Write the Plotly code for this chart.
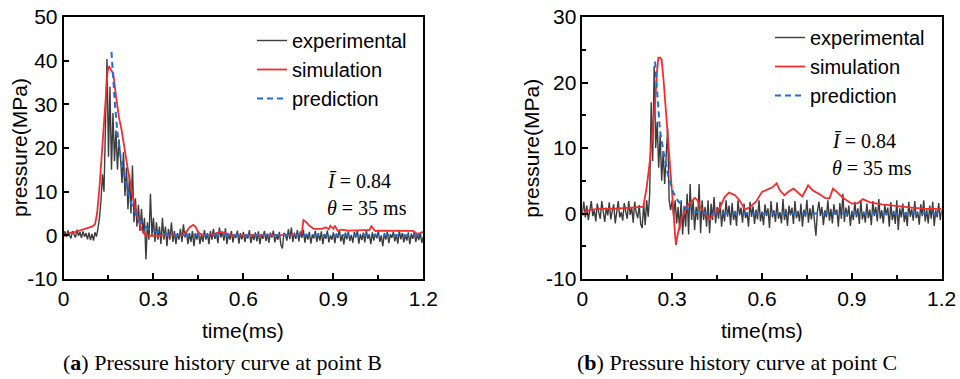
import plotly.graph_objects as go

# ---------------- data ----------------
# Point B experimental (sampled every 0.005 ms from 0 to 1.2 ms)
exp_b = [0.2, 0.9, -0.4, 1.1, 0.0, -0.7, 1.0, 0.3, -0.5, 1.3, -0.1, 0.7, -0.6, 0.9, -0.3, 0.5, -0.9, 0.6, -1.1, 0.3,
         -1.2, 0.7, -0.3, 1.6,
         4.0, 8.0, 14.0, 10.0, 25.0, 40.4, 18.0, 34.0, 15.0, 28.0, 17.0, 24.0, 15.0, 22.0, 18.0, 12.0, 19.0, 9.0, 15.5,
         6.0, 14.0, 5.0, 16.0, 3.0, 8.5, 2.0, 7.0, 1.0, 6.0, 0.5, 4.0, -5.5, 3.0, -1.0, 9.5, 0.0, 4.0,
         -1.5, 3.0, -1.0, 2.0, -2.0, 4.0, -1.0, 2.0, -2.5, 1.5, -1.0, 3.0, -1.5, 1.0, -2.0, 0.5, -1.0, 1.5, -1.5, 2.5,
         -0.5, 1.0, -2.0, 0.5, -1.5, 1.0, -2.5, 0.5, -1.0, 1.0, -2.0, 0.3, -1.5, 1.2, -1.0, 0.5, -2.0, 1.0, -1.0,
         1.5, -0.8, 0.6, -1.8, 1.8, -0.5, 0.9, -1.2, 1.6, -2.0,
         0.4, -1.0, 1.0, -1.6, 0.2, -0.6, 1.1, -1.9, 0.5, -0.9,
         0.8, -1.5, 0.1, -0.7, 1.2, -1.8, 0.3, -1.1, 0.7, -1.4,
         0.9, -2.0, 0.2, -0.8, 1.0, -1.3, 0.4, -1.7, 0.6, -0.5,
         1.1, -1.6, 0.0, -1.0, 0.8, -2.2, -3.0, 0.5, 0.2, -1.2,
         1.4, -0.9, 1.8, -1.5, 0.6, -0.8, 1.2, -1.4, 0.9, -0.6,
         1.3, -1.7, 0.4, -1.0, 0.8, -1.9, 0.2, -0.7, 1.0, -1.5,
         0.5, -1.2, 0.9, -2.0, 0.3, -0.8, 1.1, -1.6, 0.0, -1.0,
         0.7, -1.8, 0.4, -0.6, 1.2, -1.4, 0.2, -2.1, 0.6, -0.9,
         0.9, -1.3, 0.1, -1.7, 0.8, -0.5, 1.0, -1.9, 0.3, -1.1,
         0.6, -1.6, 1.1, -0.8, 0.2, -2.0, 0.7, -1.2, 0.4, -0.7,
         1.0, -1.5, 0.0, -2.5, 0.5, -1.0, 0.9, -1.8, 0.3, -0.6,
         0.8, -1.4, 0.2, -1.9, 1.1, -0.9, 0.5, -1.6, 0.1, -1.2,
         0.7, -2.0, 0.4, -0.8, 0.9, -1.5, 0.2, -1.1, 0.6, -1.7,
         -0.3]

sim_b_t = [0, 0.02, 0.04, 0.06, 0.08, 0.095, 0.105, 0.112, 0.12, 0.127, 0.133, 0.14, 0.147, 0.152, 0.158, 0.166,
           0.175, 0.185, 0.194, 0.205, 0.215, 0.227, 0.24, 0.25, 0.26, 0.27, 0.283, 0.3, 0.35, 0.4, 0.41, 0.42,
           0.433, 0.44, 0.45, 0.47, 0.5, 0.52, 0.54, 0.56, 0.6, 0.7, 0.78, 0.795, 0.8, 0.81, 0.82, 0.835, 0.86,
           0.875, 0.885, 0.89, 0.9, 0.905, 0.915, 0.925, 0.95, 1.0, 1.02, 1.027, 1.04, 1.06, 1.1, 1.166, 1.18,
           1.19, 1.2]
sim_b = [-0.2, 0.5, 0.8, 1.2, 1.6, 2.0, 2.5, 5.0, 11.0, 18.0, 26.0, 33.0, 37.5, 38.7, 38.0, 37.0,
         32.0, 27.0, 24.0, 19.0, 15.0, 10.5, 6.0, 3.5, 1.4, 0.3, -0.1, -0.1, 0.0, 0.1, 0.8, 1.8,
         2.4, 2.0, 0.6, 0.0, 0.2, 0.8, 0.5, 0.0, 0.0, 0.0, 0.1, 0.5, 3.5, 3.0, 2.2, 1.5, 1.5,
         1.8, 1.4, 2.2, 1.5, 2.2, 1.0, 1.3, 1.1, 1.2, 1.2, 2.1, 1.0, 1.1, 1.0, 1.0, 0.3,
         0.5, 0.8]

pred_b_t = [0.16, 0.165, 0.172, 0.18, 0.188, 0.2, 0.21, 0.225, 0.244, 0.26, 0.28, 0.3, 0.33, 0.38, 0.5, 0.8, 1.2]
pred_b = [42.0, 36.0, 29.6, 23.5, 19.0, 14.5, 11.3, 7.5, 4.4, 2.8, 1.6, 1.0, 0.4, 0.0, 0.0, 0.0, 0.0]

# Point C experimental (sampled every 0.005 ms from 0 to 1.2 ms)
exp_c = [0.0, 1.8, -0.6, 1.2, -1.0, 0.8, 1.9, -0.4, 0.5, -1.2,
         1.5, 0.2, -0.8, 1.9, 0.6, -1.3, 0.9, -0.3, 1.7, -0.9,
         0.4, 1.4, -1.5, 0.7, 1.9, -0.6, 0.2, -1.1, 1.6, 0.3,
         -0.8, 1.9, -0.2, 0.9, -1.4, 1.8, 0.1, -0.7, 1.3, -1.6,
         -2.2, 1.5, -1.8, 2.0, -0.5,
         3.0, 17.0, 8.0, 22.5, 10.0, 14.0, 7.0, 12.0, 5.0, 9.5, 4.5, 8.0, 13.0, 2.0, 0.5,
         2.0, -0.5, 2.0, -1.5, 1.0, -2.5, 2.0, -3.2, 1.0, -2.0,
         3.0, -3.2, 4.5, -1.0, 2.0, -2.5, 1.0, -1.0, 4.5, -3.0,
         2.0, -1.0, 1.0, -2.0, 2.0, -3.0, 1.5, -1.0, 2.5, -1.5,
         1.0, -0.8, 1.8, -2.0, 0.6, -1.2, 2.0, -0.5, 1.2, -1.8,
         1.6, -1.0, 0.4, -1.9, 2.0, -0.3, 0.9, -1.4, 1.5, -0.7,
         0.2, -2.0, 1.8, -0.5, 1.1, -1.6, 0.6, -0.9, 2.0, -1.2,
         0.3, -1.8, 1.4, -0.4, 0.8, -2.2, 1.9, -0.6, 0.5, -1.3,
         1.7, -0.8, 0.2, -1.5, 2.2, -1.0, 0.7, -1.9, 1.2, -0.3,
         0.9, -1.6, 1.9, -0.7, 0.4, -1.2, 1.5, -2.0, 0.6, -0.5,
         2.1, -1.4, 0.8, -0.9, 1.3, -1.7, -3.4, 0.3, 1.8, -0.4,
         1.0, -1.8, 0.5, -0.6, 2.0, -1.1, 0.7, -1.5, 1.4, -0.2,
         0.6, -2.0, 1.6, -0.8, 3.0, -1.3, 0.9, -0.5, 1.2, -1.9,
         0.4, -1.0, 1.8, -0.6, 0.8, -1.6, 2.0, -0.9, 0.3, -1.4,
         1.5, -0.7, 0.6, -1.8, 1.9, -0.4, 1.0, -1.2, 2.2, -0.8,
         0.5, -1.5, 1.3, -0.3, 0.9, -2.0, 1.7, -1.0, 0.4, -1.6,
         2.0, -2.5, 0.8, -0.6, 1.5, -1.3, 0.2, -1.9, 1.8, -0.5,
         0.7, -1.1, 1.9, -0.7, 0.3, -1.7, 1.4, -0.4, 2.0, -1.2,
         0.6, -1.5, 1.2, -0.8, 1.8, -1.9, 0.5, -0.6, 1.6, -1.0,
         0.5]

sim_c_t = [0, 0.01, 0.03, 0.06, 0.1, 0.15, 0.19, 0.2, 0.204, 0.215, 0.226, 0.235, 0.243, 0.25, 0.254, 0.26,
           0.265, 0.272, 0.282, 0.29, 0.298, 0.305, 0.31, 0.313, 0.317, 0.32, 0.33, 0.349, 0.362, 0.376, 0.385,
           0.393, 0.41, 0.426, 0.44, 0.46, 0.475, 0.49, 0.5, 0.51, 0.525, 0.543, 0.56, 0.58, 0.6, 0.62, 0.635,
           0.649, 0.66, 0.675, 0.69, 0.705, 0.72, 0.735, 0.754, 0.77, 0.79, 0.81, 0.825, 0.837, 0.85, 0.87,
           0.9, 0.92, 0.937, 0.96, 1.0, 1.05, 1.1, 1.15, 1.2]
sim_c = [-0.3, 0.3, 0.6, 0.7, 0.7, 0.8, 0.9, 1.0, 1.1, 4.0, 8.2, 12.5, 16.9, 22.0, 23.8, 23.8,
         23.5, 20.0, 14.3, 9.0, 4.2, 0.0, -3.5, -4.8, -3.5, -2.9, -1.0, 1.1, 1.8, 2.4, 2.0,
         1.0, 0.0, -0.9, 0.0, 0.9, 2.5, 3.2, 3.0, 2.8, 2.0, 0.6, 1.0, 1.8, 3.3, 3.7, 4.0,
         4.6, 3.5, 2.8, 3.4, 3.8, 3.2, 2.6, 4.3, 3.5, 3.0, 2.4, 2.3, 3.8, 3.3, 2.4,
         1.5, 1.6, 2.2, 1.7, 1.4, 1.1, 0.9, 0.7, 0.7]

pred_c_t = [0.243, 0.248, 0.253, 0.259, 0.27, 0.287, 0.304, 0.32, 0.337, 0.36, 0.381, 0.42, 0.6, 0.9, 1.2]
pred_c = [23.2, 19.4, 15.5, 12.8, 9.7, 5.7, 3.2, 1.9, 1.1, 0.5, 0.2, 0.0, 0.0, 0.0, 0.0]

x_ticks = [0, 0.3, 0.6, 0.9, 1.2]
x_tick_text = ["0", "0.3", "0.6", "0.9", "1.2"]
y_ticks_b = [-10, 0, 10, 20, 30, 40, 50]
y_tick_text_b = ["-10", "0", "10", "20", "30", "40", "50"]
y_ticks_c = [-10, 0, 10, 20, 30]
y_tick_text_c = ["-10", "0", "10", "20", "30"]
series_names = ["experimental", "simulation", "prediction"]
captions = ["(<b>a</b>) Pressure history curve at point B", "(<b>b</b>) Pressure history curve at point C"]
params_text = ["<i>Ī</i> = 0.84", "<i>θ</i> = 35 ms"]

# sampling time grid for experimental records
t_exp_b = [round(1.2 * i / (len(exp_b) - 1), 4) for i in range(len(exp_b))]
t_exp_c = [round(1.2 * i / (len(exp_c) - 1), 4) for i in range(len(exp_c))]

# ---------------- figure ----------------
W, H = 960, 379
SANS = "Liberation Sans, Arial, sans-serif"
SERIF = "Liberation Serif, Times New Roman, serif"
C_EXP = "#3c3c3c"
C_SIM = "#f52c2c"
C_PRED = "#1d6fe0"

fig = go.Figure()

def add_panel(tx, ex, st, sv, pt, pv, xa, ya, leg):
    fig.add_trace(go.Scatter(x=tx, y=ex, mode="lines", name=series_names[0], xaxis=xa, yaxis=ya,
                             line=dict(color=C_EXP, width=1.4), legend=leg))
    fig.add_trace(go.Scatter(x=st, y=sv, mode="lines", name=series_names[1], xaxis=xa, yaxis=ya,
                             line=dict(color=C_SIM, width=1.8), legend=leg))
    fig.add_trace(go.Scatter(x=pt, y=pv, mode="lines", name=series_names[2], xaxis=xa, yaxis=ya,
                             line=dict(color=C_PRED, width=2, dash="6px,4px"), legend=leg))

add_panel(t_exp_b, exp_b, sim_b_t, sim_b, pred_b_t, pred_b, "x", "y", "legend")
add_panel(t_exp_c, exp_c, sim_c_t, sim_c, pred_c_t, pred_c, "x2", "y2", "legend2")

def px_x(p):
    return p / W

def px_y(p):
    return 1 - p / H

axis_common = dict(showline=True, linecolor="black", linewidth=1.5, mirror=True,
                   ticks="inside", ticklen=6, tickwidth=1.5, tickcolor="black",
                   showgrid=False, zeroline=False, automargin=False,
                   tickfont=dict(family=SANS, size=21, color="black"))

ydom = [px_y(279), px_y(17)]
fig.update_layout(
    width=W, height=H, autosize=False,
    margin=dict(l=0, r=0, t=0, b=0, pad=0),
    paper_bgcolor="white", plot_bgcolor="white",
    showlegend=True,
    xaxis=dict(domain=[px_x(63.5), px_x(423.3)], range=[0, 1.2], anchor="y",
               tickvals=x_ticks, ticktext=x_tick_text,
               minor=dict(ticks="inside", ticklen=4, tickwidth=1.5, tickcolor="black", dtick=0.15, tick0=0),
               **axis_common),
    yaxis=dict(domain=ydom, range=[-10, 50], anchor="x", tickvals=y_ticks_b, ticktext=y_tick_text_b,
               **axis_common),
    xaxis2=dict(domain=[px_x(582.3), px_x(941.7)], range=[0, 1.2], anchor="y2",
                tickvals=x_ticks, ticktext=x_tick_text,
                minor=dict(ticks="inside", ticklen=4, tickwidth=1.5, tickcolor="black", dtick=0.15, tick0=0),
                **axis_common),
    yaxis2=dict(domain=ydom, range=[-10, 30], anchor="x2", tickvals=y_ticks_c, ticktext=y_tick_text_c,
                minor=dict(ticks="inside", ticklen=4, tickwidth=1.5, tickcolor="black", dtick=5, tick0=0),
                **axis_common),
    legend=dict(x=px_x(252), y=px_y(21), xanchor="left", yanchor="top", bgcolor="rgba(0,0,0,0)",
                font=dict(family=SANS, size=20, color="black"), borderwidth=0),
    legend2=dict(x=px_x(770), y=px_y(18), xanchor="left", yanchor="top", bgcolor="rgba(0,0,0,0)",
                 font=dict(family=SANS, size=20, color="black"), borderwidth=0),
)

ann = []
# axis titles
for cx in (243.4, 762):
    ann.append(dict(text="time(ms)", x=px_x(cx), y=px_y(330), xref="paper", yref="paper",
                    showarrow=False, xanchor="center", yanchor="middle",
                    font=dict(family=SANS, size=21, color="black")))
for cx in (20, 531.7):
    ann.append(dict(text="pressure(MPa)", x=px_x(cx), y=px_y(148), xref="paper", yref="paper",
                    showarrow=False, xanchor="center", yanchor="middle", textangle=-90,
                    font=dict(family=SANS, size=21, color="black")))
# captions
for cx, txt in zip((222, 737), captions):
    ann.append(dict(text=txt, x=px_x(cx), y=px_y(362), xref="paper", yref="paper",
                    showarrow=False, xanchor="center", yanchor="middle",
                    font=dict(family=SERIF, size=22, color="black")))
# parameter notes
for lx, y1, y2 in ((325, 181, 208), (830, 141, 168)):
    ann.append(dict(text=params_text[0], x=px_x(lx), y=px_y(y1), xref="paper", yref="paper",
                    showarrow=False, xanchor="left", yanchor="middle",
                    font=dict(family=SERIF, size=20, color="black")))
    ann.append(dict(text=params_text[1], x=px_x(lx), y=px_y(y2), xref="paper", yref="paper",
                    showarrow=False, xanchor="left", yanchor="middle",
                    font=dict(family=SERIF, size=20, color="black")))
fig.update_layout(annotations=ann)

fig.write_html("out.html", config={"responsive": False, "displayModeBar": False},
               post_script="document.body.style.margin='0';document.body.style.overflow='hidden';")
